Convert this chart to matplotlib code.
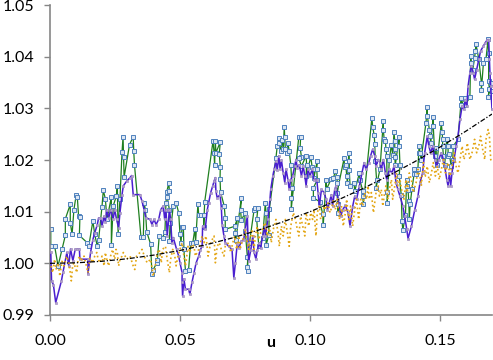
import matplotlib
matplotlib.use("Agg")
import matplotlib.pyplot as plt
from matplotlib.ticker import FormatStrFormatter

# green series (with blue square markers)
green_u = [0.0003, 0.0003, 0.0018, 0.0031, 0.0046, 0.0059, 0.0059, 0.0078, 0.0078, 0.0085,
           0.0092, 0.0101, 0.0105, 0.0110, 0.0115, 0.0113, 0.0143, 0.0149, 0.0165, 0.0172,
           0.0182, 0.0187, 0.0200, 0.0205, 0.0213, 0.0219, 0.0236, 0.0236, 0.0243, 0.0255,
           0.0259, 0.0262, 0.0269, 0.0277, 0.0281, 0.0283, 0.0285, 0.0306, 0.0320, 0.0322,
           0.0325, 0.0350, 0.0359, 0.0362, 0.0367, 0.0372, 0.0387, 0.0392, 0.0397, 0.0410,
           0.0413, 0.0420, 0.0433, 0.0442, 0.0446, 0.0449, 0.0457, 0.0459, 0.0451, 0.0459,
           0.0462, 0.0459, 0.0474, 0.0485, 0.0495, 0.0500, 0.0504, 0.0508, 0.0513, 0.0515,
           0.0521, 0.0533, 0.0541, 0.0549, 0.0557, 0.0560, 0.0569, 0.0572, 0.0582, 0.0592,
           0.0591, 0.0595, 0.0627, 0.0631, 0.0633, 0.0636, 0.0638, 0.0655, 0.0651, 0.0655,
           0.0654, 0.0656, 0.0670, 0.0674, 0.0674, 0.0713, 0.0720, 0.0710, 0.0715, 0.0736,
           0.0733, 0.0736, 0.0749, 0.0751, 0.0759, 0.0762, 0.0758, 0.0767, 0.0785, 0.0790,
           0.0800, 0.0795, 0.0803, 0.0818, 0.0828, 0.0831, 0.0831, 0.0841, 0.0844, 0.0869,
           0.0874, 0.0880, 0.0882, 0.0887, 0.0893, 0.0897, 0.0901, 0.0903, 0.0905, 0.0910,
           0.0915, 0.0920, 0.0926, 0.0931, 0.0928, 0.0928, 0.0957, 0.0964, 0.0962, 0.0967,
           0.0957, 0.0967, 0.0985, 0.0987, 0.0985, 0.1003, 0.1008, 0.1015, 0.1015, 0.1028,
           0.1026, 0.1028, 0.1013, 0.1013, 0.1038, 0.1049, 0.1051, 0.1062, 0.1064, 0.1082,
           0.1090, 0.1097, 0.1103, 0.1105, 0.1108, 0.1108, 0.1104, 0.1131, 0.1133, 0.1138,
           0.1141, 0.1144, 0.1149, 0.1151, 0.1151, 0.1154, 0.1169, 0.1172, 0.1190, 0.1192,
           0.1203, 0.1203, 0.1205, 0.1238, 0.1241, 0.1247, 0.1249, 0.1251, 0.1256, 0.1254,
           0.1269, 0.1282, 0.1282, 0.1285, 0.1290, 0.1292, 0.1295, 0.1297, 0.1297, 0.1305,
           0.1313, 0.1318, 0.1323, 0.1326, 0.1326, 0.1326, 0.1328, 0.1343, 0.1343, 0.1346,
           0.1343, 0.1351, 0.1354, 0.1357, 0.1367, 0.1372, 0.1372, 0.1377, 0.1380, 0.1382,
           0.1385, 0.1392, 0.1400, 0.1400, 0.1408, 0.1415, 0.1418, 0.1420, 0.1423, 0.1427,
           0.1446, 0.1451, 0.1451, 0.1459, 0.1462, 0.1464, 0.1474, 0.1474, 0.1480, 0.1485,
           0.1487, 0.1505, 0.1508, 0.1510, 0.1510, 0.1513, 0.1518, 0.1526, 0.1531, 0.1531,
           0.1536, 0.1543, 0.1549, 0.1551, 0.1569, 0.1582, 0.1582, 0.1595, 0.1597, 0.1615,
           0.1618, 0.1620, 0.1626, 0.1633, 0.1636, 0.1638, 0.1649, 0.1659, 0.1659, 0.1667,
           0.1677, 0.1685, 0.1687, 0.1687, 0.1690, 0.1685, 0.1695, 0.1700]
green_y = [1.0066, 1.0033, 1.0033, 0.9995, 1.0027, 1.0054, 1.0086, 1.0114, 1.0079, 1.0056,
           1.0104, 1.0133, 1.0129, 1.0091, 1.0089, 1.0054, 1.0040, 1.0033, 1.0082, 1.0056,
           1.0033, 1.0046, 1.0110, 1.0141, 1.0125, 1.0085, 1.0128, 1.0035, 1.0111, 1.0130,
           1.0150, 1.0056, 1.0124, 1.0215, 1.0245, 1.0206, 1.0167, 1.0230, 1.0245, 1.0218,
           1.0190, 1.0051, 1.0051, 1.0117, 1.0104, 1.0061, 1.0037, 0.9980, 0.9988, 1.0000,
           1.0006, 1.0053, 1.0050, 1.0061, 1.0116, 1.0138, 1.0156, 1.0140, 1.0129, 1.0104,
           1.0079, 1.0043, 1.0111, 1.0117, 1.0098, 1.0056, 1.0040, 1.0071, 1.0071, 1.0027,
           0.9985, 0.9988, 1.0039, 1.0039, 1.0066, 1.0042, 1.0115, 1.0093, 1.0093, 1.0093,
           1.0071, 1.0119, 1.0237, 1.0214, 1.0191, 1.0237, 1.0214, 1.0235, 1.0212, 1.0187,
           1.0164, 1.0138, 1.0111, 1.0088, 1.0066, 1.0072, 1.0088, 1.0058, 1.0046, 1.0127,
           1.0103, 1.0083, 1.0097, 1.0062, 1.0013, 0.9985, 0.9992, 1.0039, 1.0104, 1.0108,
           1.0108, 1.0085, 1.0033, 1.0049, 1.0117, 1.0097, 1.0035, 1.0054, 1.0106, 1.0204,
           1.0227, 1.0243, 1.0232, 1.0217, 1.0238, 1.0221, 1.0264, 1.0245, 1.0222, 1.0214,
           1.0233, 1.0217, 1.0191, 1.0146, 1.0126, 1.0106, 1.0245, 1.0245, 1.0224, 1.0206,
           1.0204, 1.0188, 1.0208, 1.0191, 1.0169, 1.0206, 1.0187, 1.0182, 1.0166, 1.0199,
           1.0182, 1.0162, 1.0146, 1.0127, 1.0119, 1.0095, 1.0075, 1.0161, 1.0144, 1.0164,
           1.0165, 1.0178, 1.0168, 1.0155, 1.0114, 1.0097, 1.0137, 1.0203, 1.0187, 1.0190,
           1.0170, 1.0155, 1.0214, 1.0198, 1.0180, 1.0150, 1.0156, 1.0140, 1.0175, 1.0161,
           1.0140, 1.0130, 1.0114, 1.0282, 1.0264, 1.0248, 1.0231, 1.0198, 1.0162, 1.0146,
           1.0182, 1.0275, 1.0259, 1.0241, 1.0237, 1.0222, 1.0208, 1.0138, 1.0116, 1.0201,
           1.0230, 1.0209, 1.0254, 1.0237, 1.0222, 1.0206, 1.0190, 1.0245, 1.0228, 1.0191,
           1.0169, 1.0132, 1.0081, 1.0064, 1.0093, 1.0162, 1.0150, 1.0142, 1.0120, 1.0085,
           1.0114, 1.0143, 1.0172, 1.0183, 1.0172, 1.0183, 1.0214, 1.0228, 1.0214, 1.0201,
           1.0272, 1.0303, 1.0286, 1.0259, 1.0246, 1.0232, 1.0284, 1.0266, 1.0208, 1.0224,
           1.0191, 1.0271, 1.0255, 1.0241, 1.0228, 1.0208, 1.0191, 1.0241, 1.0227, 1.0208,
           1.0211, 1.0188, 1.0201, 1.0227, 1.0240, 1.0320, 1.0307, 1.0320, 1.0306, 1.0322,
           1.0401, 1.0388, 1.0375, 1.0398, 1.0411, 1.0425, 1.0396, 1.0350, 1.0335, 1.0388,
           1.0396, 1.0435, 1.0408, 1.0352, 1.0337, 1.0322, 1.0350, 1.0333]

# purple series
purple_u = [0.0003, 0.0006, 0.0013, 0.0022, 0.0044, 0.0050, 0.0065, 0.0072, 0.0079, 0.0088,
            0.0097, 0.0105, 0.0113, 0.0115, 0.0146, 0.0146, 0.0156, 0.0165, 0.0172, 0.0182,
            0.0187, 0.0195, 0.0200, 0.0208, 0.0213, 0.0218, 0.0226, 0.0233, 0.0243, 0.0249,
            0.0256, 0.0264, 0.0269, 0.0277, 0.0282, 0.0295, 0.0308, 0.0314, 0.0320, 0.0346,
            0.0354, 0.0362, 0.0369, 0.0385, 0.0392, 0.0400, 0.0408, 0.0418, 0.0426, 0.0436,
            0.0441, 0.0446, 0.0451, 0.0459, 0.0464, 0.0469, 0.0474, 0.0487, 0.0495, 0.0500,
            0.0508, 0.0508, 0.0510, 0.0515, 0.0521, 0.0533, 0.0538, 0.0546, 0.0554, 0.0562,
            0.0572, 0.0577, 0.0585, 0.0587, 0.0597, 0.0605, 0.0610, 0.0618, 0.0626, 0.0631,
            0.0636, 0.0638, 0.0643, 0.0654, 0.0659, 0.0662, 0.0669, 0.0674, 0.0687, 0.0700,
            0.0707, 0.0713, 0.0720, 0.0726, 0.0736, 0.0745, 0.0751, 0.0759, 0.0762, 0.0764,
            0.0772, 0.0780, 0.0785, 0.0792, 0.0797, 0.0805, 0.0810, 0.0818, 0.0826, 0.0828,
            0.0838, 0.0846, 0.0849, 0.0857, 0.0862, 0.0869, 0.0874, 0.0880, 0.0885, 0.0890,
            0.0897, 0.0903, 0.0908, 0.0915, 0.0920, 0.0926, 0.0933, 0.0941, 0.0946, 0.0951,
            0.0959, 0.0967, 0.0974, 0.0980, 0.0985, 0.0992, 0.1000, 0.1008, 0.1015, 0.1026,
            0.1031, 0.1036, 0.1044, 0.1054, 0.1062, 0.1067, 0.1074, 0.1082, 0.1087, 0.1095,
            0.1100, 0.1108, 0.1113, 0.1118, 0.1126, 0.1136, 0.1146, 0.1154, 0.1164, 0.1172,
            0.1179, 0.1190, 0.1200, 0.1208, 0.1215, 0.1226, 0.1233, 0.1241, 0.1249, 0.1254,
            0.1262, 0.1269, 0.1274, 0.1282, 0.1290, 0.1295, 0.1305, 0.1315, 0.1323, 0.1331,
            0.1338, 0.1346, 0.1357, 0.1364, 0.1372, 0.1377, 0.1390, 0.1403, 0.1415, 0.1423,
            0.1433, 0.1441, 0.1451, 0.1457, 0.1464, 0.1472, 0.1480, 0.1487, 0.1495, 0.1505,
            0.1513, 0.1518, 0.1526, 0.1531, 0.1536, 0.1541, 0.1546, 0.1554, 0.1562, 0.1569,
            0.1577, 0.1585, 0.1592, 0.1597, 0.1603, 0.1608, 0.1615, 0.1620, 0.1628, 0.1633,
            0.1641, 0.1649, 0.1656, 0.1667, 0.1674, 0.1682, 0.1687, 0.1690, 0.1692, 0.1695,
            0.1700]
purple_y = [1.0021, 0.9966, 0.9959, 0.9924, 0.9966, 0.9983, 1.0021, 0.9995, 1.0028, 1.0005,
            1.0027, 1.0028, 1.0028, 1.0008, 1.0008, 0.9979, 1.0021, 1.0046, 1.0059, 1.0075,
            1.0088, 1.0088, 1.0072, 1.0091, 1.0080, 1.0104, 1.0088, 1.0104, 1.0086, 1.0104,
            1.0085, 1.0069, 1.0098, 1.0133, 1.0150, 1.0159, 1.0166, 1.0170, 1.0133, 1.0133,
            1.0120, 1.0104, 1.0088, 1.0085, 1.0075, 1.0085, 1.0075, 1.0085, 1.0104, 1.0111,
            1.0085, 1.0104, 1.0053, 1.0104, 1.0085, 1.0040, 1.0050, 1.0027, 1.0014, 1.0001,
            0.9982, 0.9963, 0.9937, 0.9970, 0.9950, 0.9950, 0.9940, 0.9963, 0.9982, 1.0001,
            1.0014, 1.0025, 1.0033, 1.0072, 1.0066, 1.0104, 1.0117, 1.0137, 1.0150, 1.0159,
            1.0166, 1.0140, 1.0127, 1.0133, 1.0108, 1.0075, 1.0053, 1.0040, 1.0033, 1.0027,
            0.9972, 1.0001, 1.0037, 1.0030, 1.0043, 1.0046, 1.0066, 1.0091, 1.0040, 1.0004,
            1.0025, 1.0053, 1.0021, 1.0008, 1.0025, 1.0040, 1.0030, 1.0053, 1.0072, 1.0053,
            1.0085, 1.0124, 1.0143, 1.0169, 1.0182, 1.0198, 1.0180, 1.0208, 1.0182, 1.0200,
            1.0175, 1.0156, 1.0182, 1.0162, 1.0143, 1.0162, 1.0169, 1.0188, 1.0201, 1.0185,
            1.0191, 1.0169, 1.0188, 1.0169, 1.0150, 1.0182, 1.0169, 1.0182, 1.0162, 1.0162,
            1.0137, 1.0111, 1.0143, 1.0137, 1.0124, 1.0104, 1.0117, 1.0133, 1.0111, 1.0143,
            1.0150, 1.0124, 1.0112, 1.0091, 1.0104, 1.0112, 1.0098, 1.0072, 1.0110, 1.0130,
            1.0124, 1.0150, 1.0175, 1.0195, 1.0182, 1.0195, 1.0208, 1.0221, 1.0208, 1.0188,
            1.0201, 1.0195, 1.0182, 1.0201, 1.0175, 1.0162, 1.0182, 1.0175, 1.0188, 1.0156,
            1.0143, 1.0130, 1.0111, 1.0091, 1.0066, 1.0048, 1.0072, 1.0104, 1.0130, 1.0156,
            1.0175, 1.0214, 1.0246, 1.0227, 1.0214, 1.0227, 1.0201, 1.0188, 1.0201, 1.0214,
            1.0201, 1.0188, 1.0162, 1.0150, 1.0175, 1.0150, 1.0175, 1.0201, 1.0227, 1.0246,
            1.0279, 1.0304, 1.0298, 1.0317, 1.0304, 1.0343, 1.0369, 1.0382, 1.0369, 1.0356,
            1.0375, 1.0395, 1.0411, 1.0421, 1.0427, 1.0433, 1.0433, 1.0395, 1.0369, 1.0343,
            1.0298]

# orange dotted series
orange_u = [0.0005, 0.0010, 0.0018, 0.0023, 0.0031, 0.0038, 0.0046, 0.0054, 0.0064, 0.0072,
            0.0077, 0.0082, 0.0087, 0.0092, 0.0103, 0.0108, 0.0115, 0.0120, 0.0131, 0.0146,
            0.0154, 0.0164, 0.0172, 0.0180, 0.0185, 0.0192, 0.0200, 0.0208, 0.0213, 0.0220,
            0.0226, 0.0233, 0.0241, 0.0249, 0.0254, 0.0259, 0.0264, 0.0269, 0.0277, 0.0282,
            0.0295, 0.0308, 0.0320, 0.0326, 0.0333, 0.0346, 0.0354, 0.0367, 0.0374, 0.0387,
            0.0397, 0.0405, 0.0413, 0.0420, 0.0428, 0.0433, 0.0444, 0.0449, 0.0459, 0.0464,
            0.0472, 0.0480, 0.0485, 0.0492, 0.0500, 0.0508, 0.0515, 0.0521, 0.0531, 0.0538,
            0.0546, 0.0554, 0.0559, 0.0572, 0.0585, 0.0592, 0.0600, 0.0608, 0.0618, 0.0631,
            0.0636, 0.0643, 0.0651, 0.0659, 0.0669, 0.0674, 0.0687, 0.0695, 0.0703, 0.0710,
            0.0718, 0.0726, 0.0731, 0.0738, 0.0746, 0.0751, 0.0759, 0.0764, 0.0772, 0.0777,
            0.0785, 0.0790, 0.0797, 0.0803, 0.0810, 0.0818, 0.0826, 0.0836, 0.0844, 0.0851,
            0.0859, 0.0869, 0.0877, 0.0882, 0.0890, 0.0897, 0.0905, 0.0913, 0.0920, 0.0926,
            0.0936, 0.0944, 0.0951, 0.0957, 0.0964, 0.0972, 0.0980, 0.0985, 0.0990, 0.0995,
            0.1003, 0.1010, 0.1015, 0.1023, 0.1028, 0.1036, 0.1041, 0.1049, 0.1054, 0.1062,
            0.1069, 0.1077, 0.1085, 0.1090, 0.1097, 0.1105, 0.1113, 0.1121, 0.1128, 0.1136,
            0.1141, 0.1149, 0.1156, 0.1164, 0.1172, 0.1179, 0.1187, 0.1195, 0.1203, 0.1210,
            0.1218, 0.1223, 0.1228, 0.1236, 0.1244, 0.1249, 0.1254, 0.1262, 0.1267, 0.1274,
            0.1280, 0.1287, 0.1292, 0.1300, 0.1305, 0.1313, 0.1318, 0.1326, 0.1333, 0.1338,
            0.1346, 0.1354, 0.1362, 0.1369, 0.1374, 0.1382, 0.1390, 0.1397, 0.1408, 0.1415,
            0.1423, 0.1428, 0.1436, 0.1444, 0.1451, 0.1459, 0.1467, 0.1474, 0.1482, 0.1490,
            0.1497, 0.1505, 0.1513, 0.1521, 0.1531, 0.1538, 0.1546, 0.1554, 0.1562, 0.1569,
            0.1577, 0.1585, 0.1592, 0.1600, 0.1605, 0.1615, 0.1623, 0.1633, 0.1641, 0.1649,
            0.1656, 0.1664, 0.1672, 0.1677, 0.1685, 0.1690, 0.1695, 0.1700]
orange_y = [0.9995, 0.9982, 1.0008, 0.9988, 1.0001, 0.9975, 1.0004, 0.9995, 1.0014, 1.0001,
            0.9985, 0.9966, 0.9995, 1.0001, 0.9982, 1.0008, 1.0014, 1.0004, 1.0014, 0.9982,
            1.0011, 1.0001, 1.0014, 1.0021, 1.0008, 1.0001, 1.0014, 0.9995, 1.0021, 1.0004,
            0.9995, 1.0014, 1.0027, 1.0008, 1.0027, 1.0021, 0.9995, 1.0008, 1.0014, 1.0021,
            1.0008, 1.0014, 0.9995, 0.9988, 1.0014, 1.0021, 1.0027, 1.0008, 1.0001, 1.0008,
            0.9975, 0.9995, 1.0021, 1.0027, 1.0001, 1.0027, 1.0033, 1.0014, 0.9982, 1.0008,
            1.0027, 1.0014, 0.9995, 1.0014, 1.0027, 1.0040, 1.0014, 0.9995, 1.0033, 1.0021,
            1.0037, 1.0033, 1.0014, 1.0027, 1.0053, 1.0040, 1.0053, 1.0014, 1.0040, 1.0053,
            1.0001, 1.0033, 1.0040, 1.0027, 1.0014, 1.0033, 1.0040, 1.0021, 1.0040, 1.0053,
            1.0027, 1.0053, 1.0027, 1.0040, 1.0053, 1.0066, 1.0040, 1.0027, 1.0053, 1.0066,
            1.0027, 1.0053, 1.0072, 1.0046, 1.0059, 1.0066, 1.0079, 1.0053, 1.0072, 1.0040,
            1.0066, 1.0085, 1.0059, 1.0033, 1.0072, 1.0053, 1.0085, 1.0059, 1.0033, 1.0072,
            1.0098, 1.0085, 1.0066, 1.0053, 1.0091, 1.0072, 1.0053, 1.0098, 1.0085, 1.0072,
            1.0098, 1.0085, 1.0104, 1.0053, 1.0098, 1.0111, 1.0085, 1.0091, 1.0111, 1.0104,
            1.0117, 1.0098, 1.0111, 1.0124, 1.0104, 1.0124, 1.0085, 1.0111, 1.0072, 1.0098,
            1.0124, 1.0085, 1.0111, 1.0072, 1.0104, 1.0124, 1.0085, 1.0124, 1.0111, 1.0137,
            1.0124, 1.0150, 1.0124, 1.0137, 1.0098, 1.0117, 1.0137, 1.0150, 1.0130, 1.0143,
            1.0111, 1.0137, 1.0150, 1.0124, 1.0143, 1.0162, 1.0124, 1.0150, 1.0175, 1.0150,
            1.0162, 1.0137, 1.0124, 1.0162, 1.0137, 1.0175, 1.0162, 1.0137, 1.0156, 1.0182,
            1.0169, 1.0150, 1.0195, 1.0169, 1.0188, 1.0156, 1.0175, 1.0195, 1.0169, 1.0188,
            1.0162, 1.0182, 1.0201, 1.0175, 1.0195, 1.0169, 1.0188, 1.0214, 1.0188, 1.0175,
            1.0201, 1.0227, 1.0201, 1.0214, 1.0233, 1.0201, 1.0214, 1.0240, 1.0214, 1.0227,
            1.0246, 1.0221, 1.0201, 1.0240, 1.0259, 1.0246, 1.0201, 1.0195]

# theoretical curve
curve_u = [0.00, 0.01, 0.02, 0.03, 0.04, 0.05, 0.06, 0.07, 0.08, 0.09,
           0.10, 0.11, 0.12, 0.13, 0.14, 0.15, 0.16, 0.17]
curve_y = [1.0000, 1.0001, 1.0004, 1.0009, 1.0016, 1.0025, 1.0036, 1.0049, 1.0064, 1.0081,
           1.0100, 1.0121, 1.0144, 1.0169, 1.0196, 1.0225, 1.0256, 1.0289]

xticks = [0.00, 0.05, 0.10, 0.15]
yticks = [0.99, 1.00, 1.01, 1.02, 1.03, 1.04, 1.05]

plt.rcParams['font.family'] = ['Lato', 'DejaVu Sans']

fig = plt.figure(figsize=(4.93, 3.6), dpi=100)
ax = fig.add_axes([0.1014, 0.125, 0.8966, 0.861])

ax.plot(green_u, green_y, color='#1f7f1f', lw=0.9, marker='s', markersize=2.2,
        markerfacecolor='#dce6f2', markeredgecolor='#4f81bd', markeredgewidth=0.7, zorder=2)
ax.plot(purple_u, purple_y, color='#4a1fd0', lw=1.1, marker='s', markersize=2.0,
        markerfacecolor='#b3a2cc', markeredgecolor='#a391c0', markeredgewidth=0.5, zorder=3)
ax.plot(orange_u, orange_y, color='#e3a512', lw=1.2, ls=':', zorder=4)
ax.plot(curve_u, curve_y, color='black', lw=0.9, dashes=(4, 1.5, 1, 1.5), zorder=5)

ax.set_xlim(0, 0.17)
ax.set_ylim(0.99, 1.05)
ax.set_xticks(xticks)
ax.set_yticks(yticks)
ax.xaxis.set_major_formatter(FormatStrFormatter('%.2f'))
ax.yaxis.set_major_formatter(FormatStrFormatter('%.2f'))

for s in ['top', 'right']:
    ax.spines[s].set_visible(False)
for s in ['left', 'bottom']:
    ax.spines[s].set_color('#868686')
    ax.spines[s].set_linewidth(1.2)

ax.tick_params(axis='both', direction='out', length=4.5, width=1, color='#868686',
               labelsize=11.5, labelcolor='black')
ax.tick_params(axis='y', pad=7)
ax.tick_params(axis='x', pad=9)

ax.set_xlabel('u', fontweight='bold', fontsize=11.5)
ax.xaxis.set_label_coords(0.5, -0.09)
ax.xaxis.label.set_va('center')

fig.savefig('out.png', dpi=100)
